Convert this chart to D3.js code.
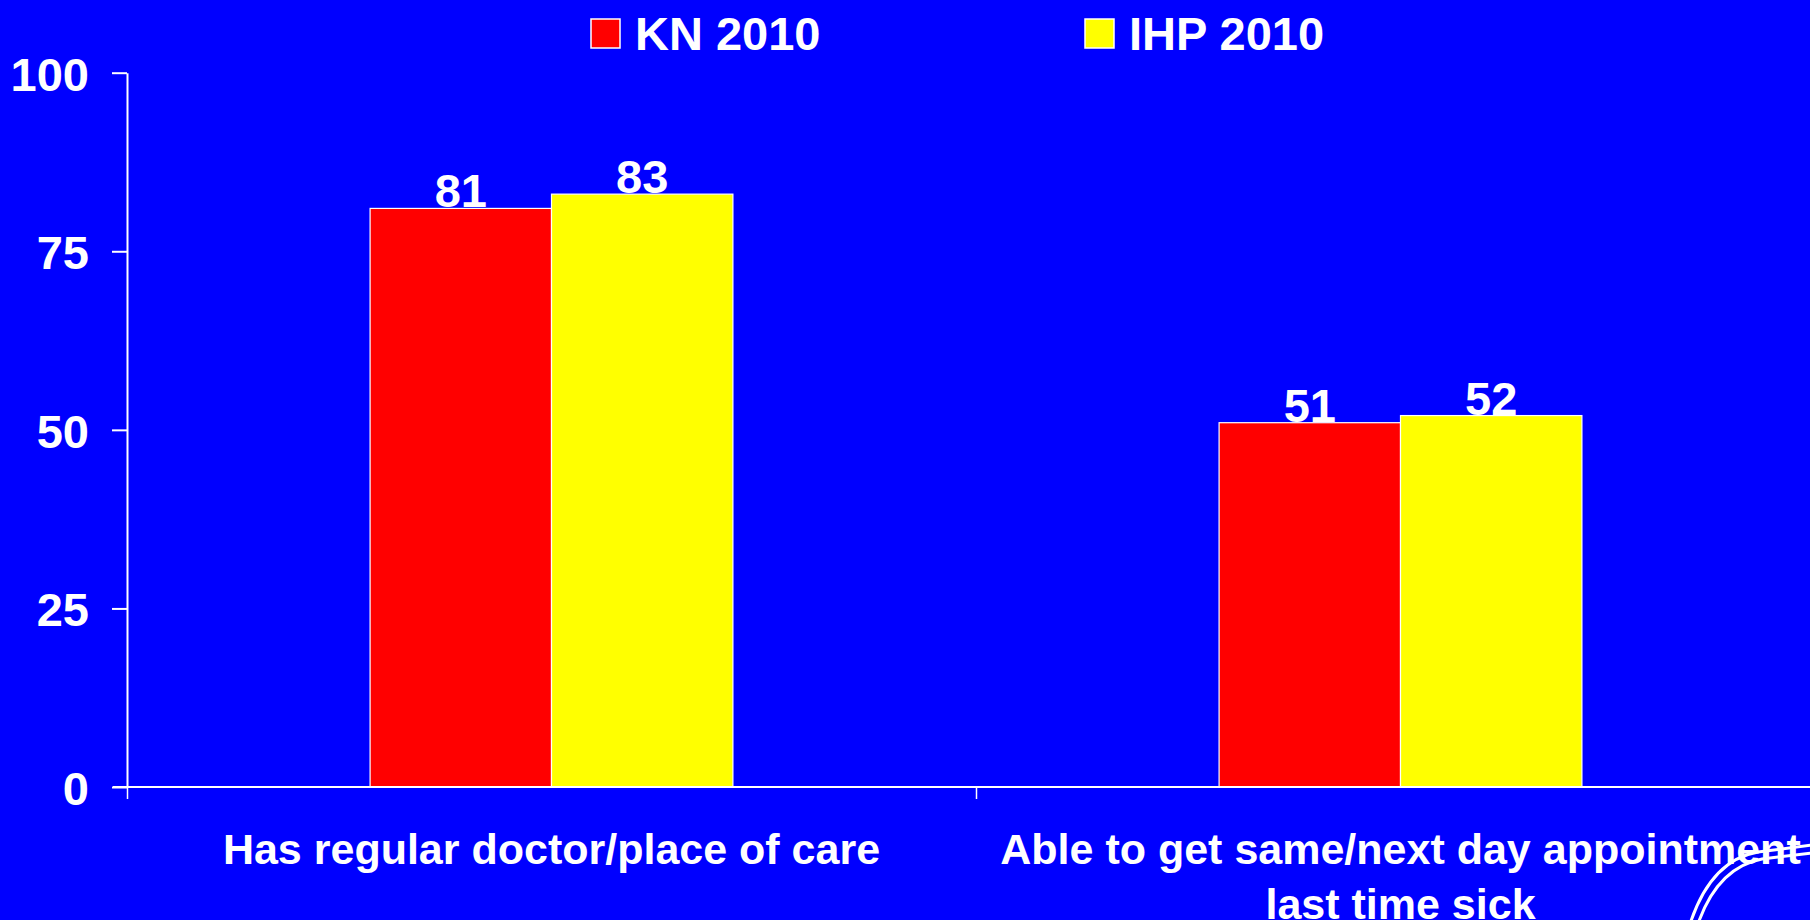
<!DOCTYPE html>
<html>
<head>
<meta charset="utf-8">
<script src="https://cdn.jsdelivr.net/npm/d3@7"></script>
<style>
	html, body { margin: 0; padding: 0; background: #0000ff; overflow: hidden; }
	svg { display: block; font-family: 'Liberation Sans', Arial, sans-serif; font-weight: bold; }
</style>
</head>
<body>
<div id="chart"></div>
<script>
// === Data ===
const categories = ['Has regular doctor/place of care', 'Able to get same/next day appointment\nlast time sick'];
const seriesNames = ['KN 2010', 'IHP 2010'];
const kn2010 = [81, 51];
const ihp2010 = [83, 52];
const yTicks = [0, 25, 50, 75, 100];

const colors = ['#ff0000', '#ffff00'];

const W = 1810, H = 920;
const margins = {top: 72.7, left: 127, bottom: 133};
const innerH = H - margins.top - margins.bottom;
// the plot area runs past the right edge of the slide
const innerW = 849 * categories.length;

const svg = d3.select('#chart').append('svg')
	.attr('width', W)
	.attr('height', H);

svg.append('rect').attr('width', W).attr('height', H).attr('fill', '#0000ff');

const g = svg.append('g').attr('transform', `translate(${margins.left}, ${margins.top})`);

// Scales
const x = d3.scaleBand().domain(categories).range([0, innerW]).padding(0);
const xSub = d3.scaleBand().domain(seriesNames).range([0, x.bandwidth()]).paddingInner(0).paddingOuter(1.34);
const y = d3.scaleLinear().domain([0, 100]).range([innerH, 0]);

const rows = categories.map((c, i) => ({
	category: c,
	values: [
		{series: seriesNames[0], value: kn2010[i], color: colors[0]},
		{series: seriesNames[1], value: ihp2010[i], color: colors[1]}
	]
}));

// Y axis
const yAxisG = g.append('g').attr('class', 'y-axis')
	.call(d3.axisLeft(y).tickValues(yTicks).tickSizeInner(15).tickSizeOuter(0).tickPadding(23));
yAxisG.select('.domain').attr('stroke', '#fff').attr('stroke-width', 2);
yAxisG.selectAll('.tick line').attr('stroke', '#fff').attr('stroke-width', 2);
yAxisG.selectAll('.tick text')
	.attr('fill', '#fff')
	.attr('dy', '0.37em')
	.style('font-size', '47px')
	.style('font-family', "'Liberation Sans', Arial, sans-serif")
	.style('font-weight', 'bold');

// Bars
const groups = g.selectAll('.group').data(rows).join('g')
	.attr('class', 'group')
	.attr('transform', d => `translate(${x(d.category)}, 0)`);

groups.selectAll('rect').data(d => d.values).join('rect')
	.attr('x', d => xSub(d.series))
	.attr('y', d => y(d.value))
	.attr('width', xSub.bandwidth())
	.attr('height', d => innerH - y(d.value))
	.attr('fill', d => d.color)
	.attr('stroke', '#fff')
	.attr('stroke-width', 1.2);

// Value labels
groups.selectAll('.value').data(d => d.values).join('text')
	.attr('class', 'value')
	.attr('x', d => xSub(d.series) + xSub.bandwidth() / 2)
	.attr('y', d => y(d.value) - 1)
	.attr('text-anchor', 'middle')
	.attr('fill', '#fff')
	.style('font-size', '47px')
	.text(d => d.value);

// X axis: ticks sit on the category boundaries
const xEdge = d3.scaleLinear().domain([0, categories.length]).range([0, innerW]);
const xAxisG = g.append('g').attr('class', 'x-axis')
	.attr('transform', `translate(0, ${innerH})`)
	.call(d3.axisBottom(xEdge).tickValues(d3.range(0, categories.length + 1)).tickFormat('').tickSizeInner(12).tickSizeOuter(0));
xAxisG.select('.domain').remove();
xAxisG.selectAll('.tick line').attr('stroke', '#fff').attr('stroke-width', 1.5);
xAxisG.append('line')
	.attr('x1', -14).attr('x2', innerW)
	.attr('y1', 0).attr('y2', 0)
	.attr('stroke', '#fff').attr('stroke-width', 2);

// Category labels (second line is cut by the slide edge, as in the original)
const catText = g.append('g').attr('class', 'x-labels').selectAll('text').data(categories).join('text')
	.attr('x', d => x(d) + x.bandwidth() / 2)
	.attr('y', innerH + 77)
	.attr('text-anchor', 'middle')
	.attr('fill', '#fff')
	.style('font-size', '43px');

catText.selectAll('tspan').data(d => d.split('\n')).join('tspan')
	.attr('x', function() { return d3.select(this.parentNode).attr('x'); })
	.attr('dy', (d, i) => i === 0 ? 0 : 55)
	.text(d => d);

// Legend
const legendX = [591, 1085];
const legend = svg.append('g').attr('class', 'legend').selectAll('g').data(seriesNames).join('g')
	.attr('transform', (d, i) => `translate(${legendX[i]}, 19)`);

legend.append('rect')
	.attr('width', 29).attr('height', 29)
	.attr('fill', (d, i) => colors[i])
	.attr('stroke', '#fff')
	.attr('stroke-width', 1.5);

legend.append('text')
	.attr('x', 44)
	.attr('y', 31)
	.attr('fill', '#fff')
	.style('font-size', '47px')
	.text(d => d);

// Logo arcs in the bottom right corner of the slide
const logo = svg.append('g').attr('fill', 'none').attr('stroke', '#fff').attr('stroke-width', 3);
logo.append('path').attr('d', 'M1691,921 Q1712,860 1758,852 L1812,845');
logo.append('path').attr('d', 'M1699,921 Q1719,867 1762,859 L1812,853');
</script>
</body>
</html>
